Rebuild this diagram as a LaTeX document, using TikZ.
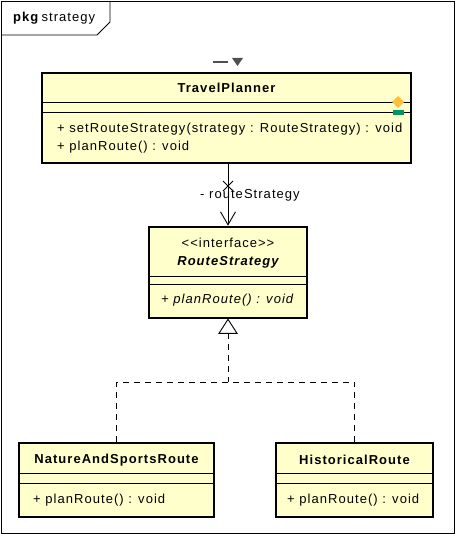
\documentclass[tikz,border=0pt]{standalone}
\usepackage{fontspec}
\setmainfont{Liberation Sans}[Ligatures=TeXOff, LetterSpace=8]
\usetikzlibrary{arrows.meta}
\definecolor{umlfill}{RGB}{255,255,204}
\definecolor{markgray}{RGB}{80,80,80}
\definecolor{markorange}{RGB}{255,190,60}
\definecolor{markgreen}{RGB}{0,150,100}
\begin{document}
\begin{tikzpicture}[x=1pt, y=-1pt,
    classbox/.style={draw, line width=2.6pt, fill=umlfill, inner sep=0pt},
    classname/.style={font=\fontsize{13}{15}\selectfont\bfseries},
    member/.style={font=\fontsize{13}{15}\selectfont, anchor=west, inner sep=0pt},
    sepline/.style={line width=0.9pt},
    realize/.style={line width=0.9pt, dash pattern=on 6pt off 5pt}]
  \useasboundingbox (0,0) rectangle (457,537);
  % package frame
  \draw[line width=0.8pt] (1,1) rectangle (454,533);
  \draw[line width=0.8pt] (1,35) -- (97,35) -- (110,22) -- (110,1);
  \node[anchor=west, inner sep=0pt, font=\fontsize{13}{15}\selectfont] (pkg) at (13,18) {\textbf{pkg}\,strategy};

  % TravelPlanner
  \node[classbox, minimum width=369pt, minimum height=90pt] (tp) at (226.5,118) {};
  \node[classname] (tpname) at (226.5,88) {TravelPlanner};
  \draw[sepline] (42,102) -- (411,102);
  \draw[sepline] (42,112) -- (411,112);
  \node[member] (tpm1) at (57,129) {+ setRouteStrategy(strategy : RouteStrategy) : void};
  \node[member] (tpm2) at (57,147) {+ planRoute() : void};
  \draw[markgray, line width=1.6pt] (213,62) -- (228,62);
  \fill[markgray] (232,58) -- (243,58) -- (237.5,66) -- cycle;
  \fill[markorange] (398,96) -- (404,102) -- (398,108) -- (392,102) -- cycle;
  \fill[markgreen] (393,110) rectangle (404,115);

  % RouteStrategy
  \node[classbox, minimum width=158pt, minimum height=91pt] (rs) at (228,272.5) {};
  \node[font=\fontsize{13}{15}\selectfont] (rsst) at (228,243) {<<interface>>};
  \node[classname, font=\fontsize{13}{15}\selectfont\bfseries\itshape] (rsname) at (228,262) {RouteStrategy};
  \draw[sepline] (149,276) -- (307,276);
  \draw[sepline] (149,284) -- (307,284);
  \node[member, font=\fontsize{13}{15}\selectfont\itshape] (rsm1) at (161,300) {+ planRoute() : void};

  % NatureAndSportsRoute
  \node[classbox, minimum width=195pt, minimum height=74pt] (ns) at (116.5,480) {};
  \node[classname] (nsname) at (116.5,460) {NatureAndSportsRoute};
  \draw[sepline] (19,473) -- (214,473);
  \draw[sepline] (19,483) -- (214,483);
  \node[member] (nsm1) at (33,500) {+ planRoute() : void};

  % HistoricalRoute
  \node[classbox, minimum width=157pt, minimum height=74pt] (hr) at (354.5,480) {};
  \node[classname] (hrname) at (354.5,460) {HistoricalRoute};
  \draw[sepline] (276,473) -- (433,473);
  \draw[sepline] (276,483) -- (433,483);
  \node[member] (hrm1) at (287,500) {+ planRoute() : void};

  % association
  \draw[line width=0.9pt, -{Straight Barb[length=13pt, width=15pt]}] (tp.south -| 228,0) -- (rs.north);
  \draw[line width=0.9pt] (223,181) -- (233,191) (233,181) -- (223,191);
  \node[anchor=west, font=\fontsize{13}{15}\selectfont, inner sep=0pt] (asslabel) at (200,195) {- routeStrategy};

  % realization
  \coordinate (split) at (228,382);
  \draw[realize] (rs.south) ++(0,14) -- (split);
  \draw[realize] (ns.north) |- (split) -| (hr.north);
  \draw[line width=0.9pt, fill=white] (rs.south) -- ++(-9,14) -- ++(18,0) -- cycle;
\end{tikzpicture}
\end{document}
